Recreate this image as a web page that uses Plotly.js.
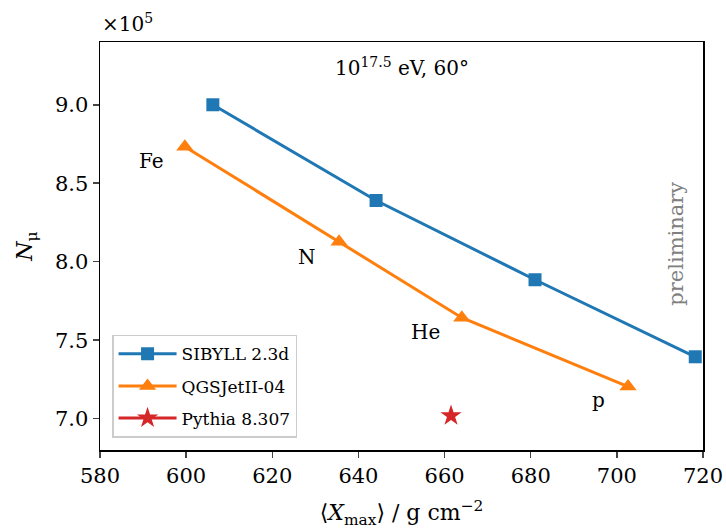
<!DOCTYPE html>
<html>
<head>
<meta charset="utf-8">
<script src="https://cdn.plot.ly/plotly-3.0.1.min.js"></script>
<style>body{margin:0;background:#fff;}#chart{width:726px;height:529px;}</style>
</head>
<body>
<div id="chart"></div>
<script>
const sibyllX = [606.2, 644.1, 681.0, 718.2];
const sibyllY = [9.00, 8.39, 7.885, 7.394];
const qgsX = [599.7, 635.5, 664.0, 702.6];
const qgsY = [8.733, 8.127, 7.643, 7.204];
const pythiaX = [661.5];
const pythiaY = [7.019];
const primaryLabels = ['Fe', 'N', 'He', 'p'];
const primaryLabelX = [592.0, 628.1, 655.5, 695.8];
const primaryLabelY = [8.64, 8.03, 7.55, 7.12];
const seriesNames = ['SIBYLL 2.3d', 'QGSJetII-04', 'Pythia 8.307'];

const FONT = 'DejaVu Serif';
const traces = [
  {x: sibyllX, y: sibyllY, name: seriesNames[0], legendgroup: 'a', mode: 'lines+markers', type: 'scatter',
   line: {color: '#1f77b4', width: 3}, marker: {symbol: 'square', size: 13, color: '#1f77b4'}},
  {x: qgsX, y: qgsY, name: seriesNames[1], legendgroup: 'b', mode: 'lines+markers', type: 'scatter',
   line: {color: '#ff7f0e', width: 3}, marker: {symbol: 'triangle-up', size: 15, color: '#ff7f0e'}},
  {x: pythiaX, y: pythiaY, name: seriesNames[2], legendgroup: 'c', mode: 'lines+markers', type: 'scatter',
   line: {color: '#d62728', width: 3}, marker: {symbol: 'star', size: 16, color: '#d62728'}}
];

const annotations = primaryLabels.map((t, i) => ({
  x: primaryLabelX[i], y: primaryLabelY[i], xref: 'x', yref: 'y', text: t, showarrow: false,
  font: {family: FONT, size: 20, color: '#000'}
}));
annotations.push({x: 0.5, y: 0.975, xref: 'paper', yref: 'paper', yanchor: 'top', text: '10<sup>17.5</sup> eV, 60°',
  showarrow: false, font: {family: FONT, size: 20, color: '#000'}});
annotations.push({x: 0.978, y: 0.505, xref: 'paper', yref: 'paper', text: 'preliminary', textangle: -90,
  showarrow: false, font: {family: FONT, size: 21, color: '#808080'}});
annotations.push({x: 0, y: 1.0, xref: 'paper', yref: 'paper', xanchor: 'left', yanchor: 'bottom', yshift: 4,
  text: '×10<sup>5</sup>', showarrow: false, font: {family: FONT, size: 20, color: '#000'}});

const layout = {
  width: 726, height: 529,
  margin: {l: 100, r: 23, t: 42, b: 79},
  paper_bgcolor: '#fff', plot_bgcolor: '#fff',
  font: {family: FONT, size: 21, color: '#000'},
  showlegend: true,
  legend: {x: 0.02, y: 0.03, xanchor: 'left', yanchor: 'bottom', bgcolor: 'rgba(255,255,255,0.8)',
    bordercolor: '#cccccc', borderwidth: 1.5, tracegroupgap: 7, itemwidth: 58,
    font: {family: FONT, size: 17, color: '#000'}},
  xaxis: {range: [580, 720], tickvals: [580, 600, 620, 640, 660, 680, 700, 720],
    ticks: 'outside', ticklen: 6, tickwidth: 1.5, showline: true, mirror: true, linewidth: 1.5, linecolor: '#000',
    showgrid: false, zeroline: false, tickfont: {family: FONT, size: 21},
    title: {text: '⟨<i>X</i><sub>max</sub>⟩ / g cm<sup>−2</sup>', font: {family: FONT, size: 22}, standoff: 22}},
  yaxis: {range: [6.8, 9.4], tickvals: [7.0, 7.5, 8.0, 8.5, 9.0], ticktext: ['7.0', '7.5', '8.0', '8.5', '9.0'],
    ticks: 'outside', ticklen: 6, tickwidth: 1.5, showline: true, mirror: true, linewidth: 1.5, linecolor: '#000',
    showgrid: false, zeroline: false, tickfont: {family: FONT, size: 21},
    title: {text: '<i>N</i><sub>μ</sub>', font: {family: FONT, size: 22}, standoff: 16}},
  annotations: annotations
};
Plotly.newPlot('chart', traces, layout, {displayModeBar: false, staticPlot: true});
</script>
</body>
</html>
